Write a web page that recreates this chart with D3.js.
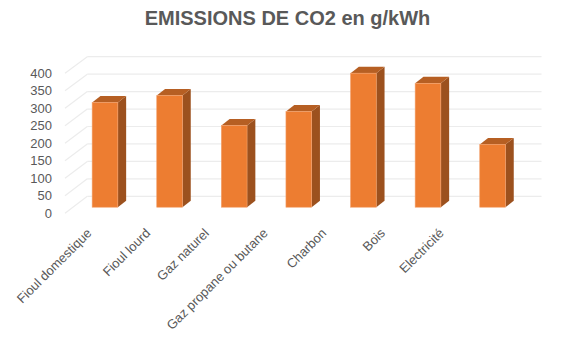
<!DOCTYPE html>
<html><head><meta charset="utf-8">
<script src="https://cdn.jsdelivr.net/npm/d3@7"></script>
<style>body{margin:0;background:#fff}svg{display:block}</style>
</head><body>
<script>
const categories = ["Fioul domestique","Fioul lourd","Gaz naturel","Gaz propane ou butane","Charbon","Bois","Electricité"];
const values = [300, 320, 234, 274, 384, 355, 180];
const yTicks = [0,50,100,150,200,250,300,350,400];
const title = "EMISSIONS DE CO2 en g/kWh";

const W = 578, H = 342;
const svg = d3.select("body").append("svg").attr("width", W).attr("height", H);

// depth geometry
const frontX = 65, backX = 87.3;
const yFront = d3.scaleLinear().domain([0,400]).range([213.3, 73.3]);
const yBack  = d3.scaleLinear().domain([0,400]).range([196.3, 56.7]);
const yBar   = d3.scaleLinear().domain([0,400]).range([207.2, 67.6]);
const x = d3.scaleBand().domain(categories).range([72.7, 524.9]).paddingInner(0.6).paddingOuter(0.3);
const xLab = d3.scaleBand().domain(categories).range([65, 476]);
const dX = 8.3, dY = -6.5;

// gridlines
const grid = svg.append("g").attr("stroke", "#ECECEC").attr("stroke-width", 1.2).attr("fill", "none");
yTicks.forEach(v => {
  grid.append("line").attr("x1", backX).attr("x2", 541.5).attr("y1", yBack(v)).attr("y2", yBack(v));
  grid.append("line").attr("x1", frontX).attr("x2", backX).attr("y1", yFront(v)).attr("y2", yBack(v));
});

// y labels
svg.append("g").selectAll("text").data(yTicks).join("text")
  .attr("x", 52).attr("y", d => yFront(d)).attr("dy", "0.35em")
  .attr("text-anchor", "end").attr("fill", "#595959")
  .attr("font-family", "Liberation Sans, Arial, sans-serif").attr("font-size", 13)
  .text(d => d);

// bars
const bars = svg.append("g").selectAll("g").data(categories).join("g");
bars.each(function(c, i) {
  const g = d3.select(this);
  const bw = 25.7;
  const x0 = x(c) + (x.bandwidth() - bw) / 2, x1 = x0 + bw;
  const yt = yBar(values[i]), yb = yBar(0);
  g.append("path").attr("d", `M${x1},${yt}L${x1+dX},${yt+dY}L${x1+dX},${yb+dY}L${x1},${yb}Z`)
    .attr("fill", "#9C511E");
  g.append("path").attr("d", `M${x0},${yt}L${x1},${yt}L${x1+dX},${yt+dY}L${x0+dX},${yt+dY}Z`)
    .attr("fill", "#B65F23");
  g.append("rect").attr("x", x0).attr("y", yt).attr("width", bw).attr("height", yb - yt)
    .attr("fill", "#ED7D31").attr("stroke", "#F3A06A").attr("stroke-width", 0.6);
});

// category labels
svg.append("g").selectAll("text").data(categories).join("text")
  .attr("transform", d => `translate(${xLab(d) + xLab.bandwidth()/2 - 2},${234}) rotate(-45)`)
  .attr("text-anchor", "end").attr("fill", "#595959")
  .attr("font-family", "Liberation Sans, Arial, sans-serif").attr("font-size", 13)
  .text(d => d);

// title
svg.append("text").attr("x", 287.5).attr("y", 25).attr("text-anchor", "middle")
  .attr("fill", "#595959").attr("font-weight", "bold")
  .attr("font-family", "Liberation Sans, Arial, sans-serif").attr("font-size", 20)
  .text(title);
</script>
</body></html>
